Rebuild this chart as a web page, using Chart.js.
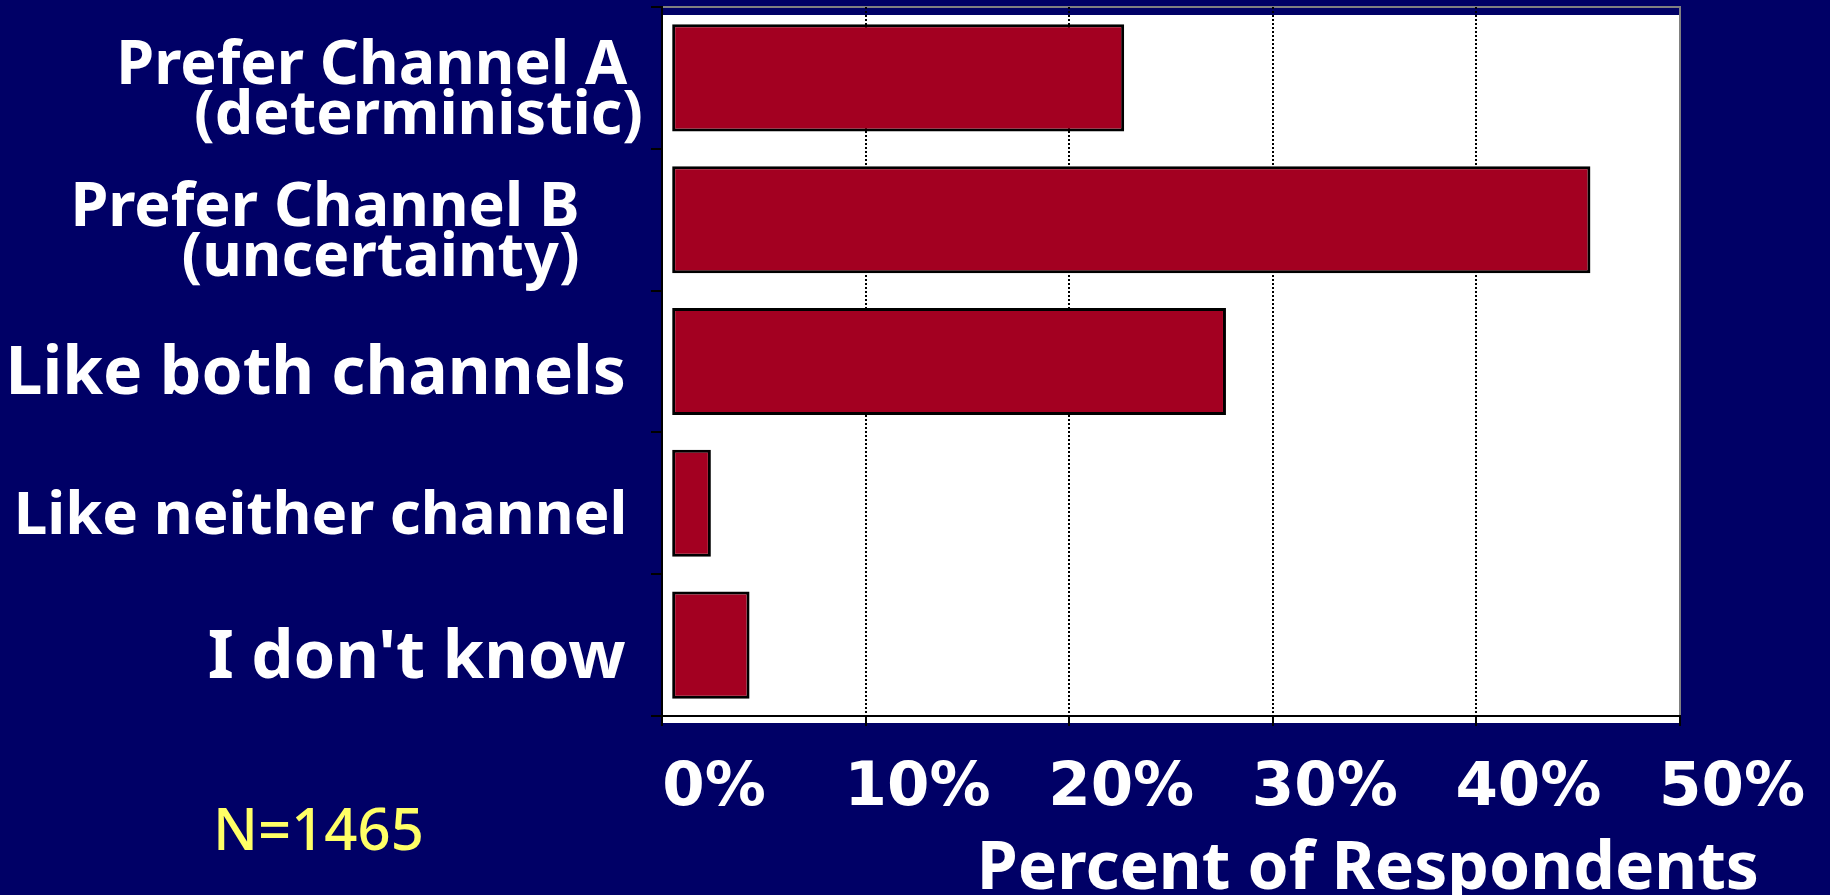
<!DOCTYPE html>
<html>
<head>
<meta charset="utf-8">
<title>Channel preference</title>
<script src="https://cdn.jsdelivr.net/npm/chart.js@4/dist/chart.umd.min.js"></script>
<style>
  html, body { margin: 0; padding: 0; background: #000066; }
  #wrap { position: relative; width: 1830px; height: 895px; }
</style>
</head>
<body>
<div id="wrap"><canvas id="surveyChart" width="1830" height="895"></canvas></div>
<script>
// Survey answers (trailing spaces keep the slide's ragged label alignment)
const categories = [
  ['Prefer Channel A ', '(deterministic)'],
  ['Prefer Channel B    ', '(uncertainty)    '],
  'Like both channels ',
  'Like neither channel ',
  "I don't know "
];
const percentValues = [22.2, 45.1, 27.2, 1.9, 3.8];
const tickValues = [0, 10, 20, 30, 40, 50];
const axisTitle = 'Percent of Respondents';
const sampleNote = 'N=1465';

const NAVY = '#000066';
const BAR_RED = '#A30021';
const LABEL_FONT = 'Noto Sans';
const TICK_FONT = 'DejaVu Sans';
// each category label was set in its own size on the slide
const labelSizes = [61, 61, 66, 60, 67];

// The bars sit a little right of the drawn 0% line, so they use their own hidden axis
const BAR_SHIFT = 0.5;

// White plot panel with the grey frame on top and right
const plotPanel = {
  id: 'plotPanel',
  beforeDraw(chart) {
    const { ctx, chartArea: a } = chart;
    ctx.save();
    ctx.fillStyle = '#ffffff';
    ctx.fillRect(a.left, a.top + 8, a.right - a.left, a.bottom - a.top - 1);
    ctx.strokeStyle = '#808080';
    ctx.lineWidth = 2;
    ctx.beginPath();
    ctx.moveTo(a.left, a.top);
    ctx.lineTo(a.right, a.top);
    ctx.lineTo(a.right, a.bottom);
    ctx.stroke();
    ctx.restore();
  }
};

// Axis title sits off to the right of centre, sample size in the bottom-left corner
const notes = {
  id: 'notes',
  afterDraw(chart) {
    const { ctx, chartArea: a } = chart;
    ctx.save();
    ctx.textBaseline = 'alphabetic';
    ctx.fillStyle = '#ffffff';
    ctx.font = `bold 66px "${LABEL_FONT}"`;
    ctx.textAlign = 'right';
    ctx.fillText(axisTitle, a.right + 79, 889);
    ctx.fillStyle = '#FFFF66';
    ctx.font = `500 58px "${LABEL_FONT}"`;
    ctx.textAlign = 'left';
    ctx.fillText(sampleNote, 213, 850);
    ctx.restore();
  }
};

const ctx = document.getElementById('surveyChart').getContext('2d');

const surveyChart = new Chart(ctx, {
  type: 'bar',
  data: {
    labels: categories,
    datasets: [{
      data: percentValues,
      xAxisID: 'xBar',
      backgroundColor: BAR_RED,
      borderColor: '#000000',
      borderWidth: 3,
      borderSkipped: false,
      barPercentage: 0.755,
      categoryPercentage: 1
    }]
  },
  options: {
    indexAxis: 'y',
    responsive: false,
    animation: false,
    layout: { padding: { top: 7, right: 150, bottom: 0, left: 0 } },
    plugins: {
      legend: { display: false },
      tooltip: { enabled: false }
    },
    scales: {
      x: {
        type: 'linear',
        position: 'bottom',
        min: 0,
        max: 50,
        afterBuildTicks(scale) {
          scale.ticks = tickValues.map(v => ({ value: v }));
        },
        afterFit(scale) {
          scale.height = 179;
          scale.paddingLeft = 0;
          scale.paddingRight = 0;
        },
        // dash here applies to the grid lines; the axis line stays solid
        border: { display: true, color: '#000000', width: 2, dash: [2, 2] },
        grid: {
          color: c => (c.tick && (c.tick.value === 0 || c.tick.value === 50)) ? 'rgba(0,0,0,0)' : '#000000',
          lineWidth: 2,
          tickColor: '#000000',
          tickLength: 10,
          tickBorderDash: []
        },
        ticks: {
          color: '#ffffff',
          font: { family: TICK_FONT, weight: 'bold', size: 61 },
          padding: 27,
          labelOffset: 52,
          maxRotation: 0,
          autoSkip: false,
          callback: v => v + '%'
        }
      },
      xBar: {
        type: 'linear',
        display: false,
        min: -BAR_SHIFT,
        max: 50 - BAR_SHIFT
      },
      y: {
        type: 'category',
        position: 'left',
        afterFit(scale) {
          scale.width = 662;
          scale.paddingTop = 0;
          scale.paddingBottom = 0;
        },
        border: { display: true, color: '#000000', width: 2 },
        grid: {
          drawOnChartArea: false,
          drawTicks: true,
          tickLength: 11,
          tickColor: '#000000',
          lineWidth: 2
        },
        ticks: {
          color: '#ffffff',
          font: c => ({ family: LABEL_FONT, weight: 'bold', size: labelSizes[c.index], lineHeight: 0.82 }),
          padding: 8,
          labelOffset: 14,
          autoSkip: false
        }
      }
    }
  },
  plugins: [plotPanel, notes]
});
</script>
</body>
</html>
